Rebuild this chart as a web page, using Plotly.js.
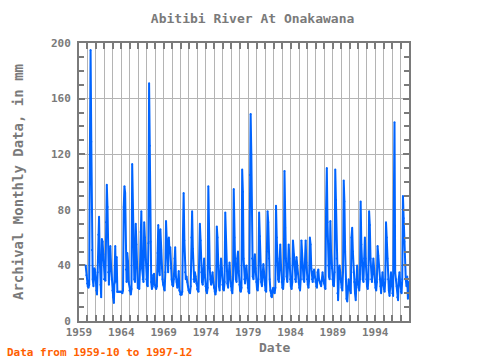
<!DOCTYPE html>
<html>
<head>
<meta charset="utf-8">
<script src="https://cdn.plot.ly/plotly-3.0.1.min.js"></script>
<style>html,body{margin:0;padding:0;background:#fff}#chart{width:480px;height:360px}</style>
</head>
<body>
<div id="chart"></div>
<script>
// Monthly values (mm)
var startYear = 1959, startMonth = 10; // first value: 1959-10
var v1959_1962 = [40,33,27,
  25,24,26,120,195,129,51,30,25,38,37,30,
  22,19,35,62,75,45,26,17,59,57,48,30,
  30,29,71,98,82,35,26,40,54,40,30,22];
var v1963_1966 = [17,13,27,54,28,46,21,21,21,21,21,21,
  21,20,22,82,97,92,37,28,49,43,28,22,
  22,19,23,113,74,57,30,28,70,55,38,24,
  24,23,37,64,79,38,30,28,71,60,44,30];
var v1967_1970 = [26,25,56,171,126,57,28,23,25,33,34,26,
  24,23,25,49,69,37,33,66,51,38,30,26,
  23,22,35,72,59,45,35,60,49,53,38,30,
  26,25,30,45,53,32,28,24,28,36,22,19];
var v1971_1974 = [19,19,21,62,92,58,35,30,32,28,25,22,
  21,20,25,60,79,52,30,28,35,32,27,23,
  22,21,40,70,58,35,28,26,38,45,33,25,
  22,20,24,97,50,38,30,26,30,35,28,24];
var v1975_1978 = [21,19,22,68,60,40,25,22,35,45,38,26,
  23,22,28,78,55,36,27,24,30,42,32,25,
  22,20,30,95,60,40,30,28,45,50,36,26,
  22,21,24,109,93,45,30,27,35,40,32,24];
var v1979_1982 = [21,20,105,149,120,45,32,30,40,48,38,28,
  23,22,30,78,61,40,28,25,35,41,35,26,
  22,21,50,79,71,45,30,22,18,17,22,24,
  21,20,24,83,60,40,30,28,45,55,40,28];
var v1983_1986 = [24,23,30,108,67,45,32,28,40,55,45,30,
  25,23,28,58,48,40,30,28,46,40,34,28,
  24,22,30,58,45,38,30,28,40,58,42,30,
  26,24,30,60,55,38,30,28,35,37,32,28];
var v1987_1990 = [25,24,35,37,30,28,27,25,30,35,30,27,
  24,23,81,110,71,40,32,30,72,50,38,30,
  26,25,35,109,87,45,20,15,30,40,35,28,
  24,22,35,101,86,50,30,16,14,25,30,25];
var v1991_1994 = [22,20,60,67,50,35,28,20,15,30,40,28,
  24,22,30,86,55,40,30,28,45,60,45,30,
  25,23,30,79,69,45,30,28,35,45,38,28,
  24,22,28,54,47,40,30,25,20,28,35,27];
var v1995_1997 = [23,21,30,71,60,45,30,22,18,25,35,28,
  20,18,80,143,35,30,25,17,15,30,35,27,
  21,20,30,90,74,57,40,30,25,32,16,28];

var yTickVals = [0,40,80,120,160,200];
var xTickLabelYears = ['1959','1964','1969','1974','1979','1984','1989','1994'];

var values = [].concat(v1959_1962, v1963_1966, v1967_1970, v1971_1974, v1975_1978,
  v1979_1982, v1983_1986, v1987_1990, v1991_1994, v1995_1997);
var dates = values.map(function(_, i){
  var m = startMonth - 1 + i;
  var y = startYear + Math.floor(m / 12);
  var mm = (m % 12) + 1;
  return y + '-' + (mm < 10 ? '0' + mm : mm) + '-15';
});

var gray = '#7a7a7a';
var font = 'DejaVu Sans Mono, monospace';

var trace = {
  x: dates, y: values, type: 'scatter', mode: 'lines+markers',
  line: {color: '#0064ff', width: 2},
  marker: {color: '#0064ff', size: 2},
  hoverinfo: 'x+y'
};

var layout = {
  width: 480, height: 360,
  margin: {l: 79, r: 71, t: 43, b: 39},
  paper_bgcolor: '#fff', plot_bgcolor: '#fff',
  showlegend: false,
  font: {family: font, color: gray, size: 11, weight: 'bold'},
  title: {text: 'Abitibi River At Onakawana', font: {family: font, size: 13, color: gray, weight: 'bold'},
          x: 0.526, xref: 'paper', xanchor: 'center', y: 0.95, yref: 'container', yanchor: 'middle'},
  xaxis: {
    type: 'date', range: ['1959-01-01', '1998-01-01'],
    tickmode: 'array',
    tickvals: xTickLabelYears.map(function(y){return y + '-01-01';}),
    ticktext: xTickLabelYears,
    ticks: 'inside', ticklen: 6, tickwidth: 2, tickcolor: gray,
    showline: true, linecolor: gray, linewidth: 2, mirror: 'allticks',
    showgrid: true, gridcolor: '#b4b4b4', gridwidth: 1,
    zeroline: false,
    tickfont: {family: font, size: 11, color: gray, weight: 'bold'},
    minor: {dtick: 'M12', tick0: '1959-01-01', ticks: 'inside', ticklen: 6, tickwidth: 2,
            tickcolor: gray, showgrid: true, gridcolor: '#b4b4b4', gridwidth: 1}
  },
  yaxis: {
    range: [0, 200], tickmode: 'array', tickvals: yTickVals,
    ticks: 'inside', ticklen: 6, tickwidth: 2, tickcolor: gray,
    showline: true, linecolor: gray, linewidth: 2, mirror: 'allticks',
    showgrid: true, gridcolor: '#b4b4b4', gridwidth: 1, zeroline: false,
    tickfont: {family: font, size: 11, color: gray, weight: 'bold'},
    ticklabelstandoff: 4,
    title: {text: 'Archival Monthly Data, in mm', font: {family: font, size: 14, color: gray, weight: 'bold'}, standoff: 24},
    minor: {dtick: 10, ticks: 'inside', ticklen: 5, tickwidth: 2, tickcolor: gray, showgrid: false}
  },
  annotations: [
    {text: 'Date', xref: 'paper', yref: 'paper', x: 0.591, y: -0.095, xanchor: 'center', yanchor: 'middle',
     showarrow: false, font: {family: font, size: 13, color: gray, weight: 'bold'}},
    {text: 'Data from 1959-10 to 1997-12', xref: 'paper', yref: 'paper', x: -0.224, y: -0.112,
     xanchor: 'left', yanchor: 'middle', showarrow: false, font: {family: font, size: 11, color: '#ff6000', weight: 'bold'}}
  ]
};

Plotly.newPlot('chart', [trace], layout, {displayModeBar: false, staticPlot: true});
</script>
</body>
</html>
